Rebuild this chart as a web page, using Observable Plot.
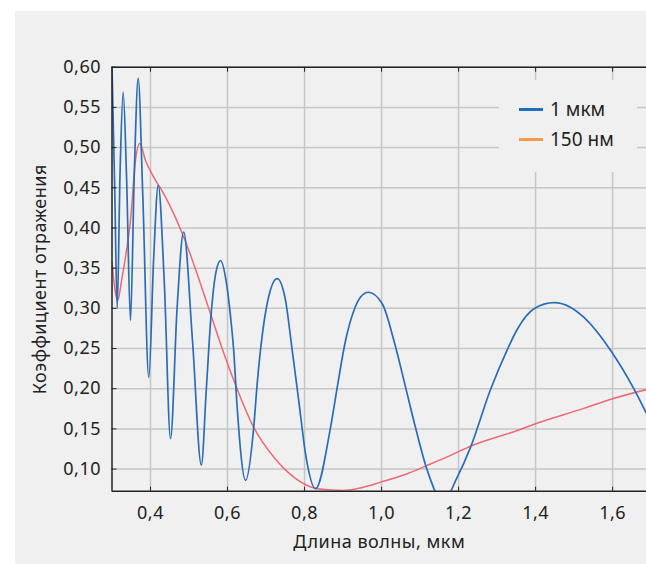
<!DOCTYPE html>
<html><head><meta charset="utf-8">
<script src="https://cdn.jsdelivr.net/npm/d3@7"></script>
<script src="https://cdn.jsdelivr.net/npm/@observablehq/plot@0.6"></script>
<style>
body{margin:0;background:#fff;}
#wrap{position:relative;width:646px;height:564px;overflow:hidden;background:#fff;font-family:"Noto Sans",sans-serif;}
#panel{position:absolute;left:15px;top:11px;right:0;bottom:0;background:#f0f0f0;}
#chart{position:absolute;left:0;top:0;}
#chart svg text{letter-spacing:0.5px;}
#legend{position:absolute;left:499px;top:80px;width:138px;height:92px;background:#f0f0f0;}
.item{position:absolute;left:20px;display:flex;align-items:center;font-size:19px;color:#222;line-height:1;}
.sw{width:24px;height:3px;margin-right:7px;}
</style></head><body>
<div id="wrap"><div id="panel"></div><div id="chart"></div><div id="legend"></div></div>
<script>
const seriesNames = ["1 мкм", "150 нм"];
const legendColors = ["#1f6fba", "#f59a4c"];
const lineColors = ["#2b6db4", "#ec5a66"];

const blueX = [0.300,0.307,0.3135,0.321,0.329,0.338,0.348,0.358,0.368,0.380,0.3956,0.408,0.420,0.436,0.452,0.469,0.486,0.509,0.532,0.545,0.557,0.570,0.582,0.596,0.6078,0.616,0.625,0.647,0.668,0.677,0.690,0.703,0.729,0.7506,0.768,0.785,0.8026,0.8286,0.8675,0.885,0.9065,0.928,0.9455,0.9655,1.0018,1.032,1.0623,1.088,1.1187,1.16,1.1966,1.231,1.283,1.326,1.3525,1.396,1.4476,1.49,1.525,1.595,1.655,1.688];
const blueY = [0.600,0.45,0.300,0.47,0.569,0.46,0.285,0.47,0.586,0.44,0.214,0.36,0.453,0.33,0.138,0.30,0.395,0.26,0.105,0.20,0.29,0.345,0.3595,0.335,0.29,0.2475,0.177,0.086,0.152,0.206,0.266,0.306,0.337,0.310,0.2476,0.185,0.119,0.0756,0.152,0.202,0.260,0.297,0.314,0.320,0.3057,0.260,0.202,0.152,0.0984,0.060,0.090,0.127,0.199,0.248,0.274,0.2995,0.307,0.3015,0.289,0.2476,0.20,0.169];

const redX = [0.300,0.308,0.315,0.325,0.337,0.348,0.361,0.372,0.387,0.4086,0.4345,0.4605,0.4865,0.5558,0.5818,0.6164,0.668,0.720,0.772,0.833,0.902,0.954,0.9974,1.0667,1.1187,1.179,1.231,1.3525,1.40,1.525,1.60,1.688];
const redY = [0.3575,0.322,0.310,0.335,0.37,0.409,0.484,0.505,0.484,0.463,0.4425,0.4176,0.3885,0.2933,0.256,0.2103,0.152,0.115,0.090,0.0756,0.0735,0.0776,0.0838,0.0942,0.1046,0.117,0.1285,0.148,0.1565,0.1755,0.1875,0.199];

const xTicks = [0.4,0.6,0.8,1.0,1.2,1.4,1.6];
const xTickLabels = ["0,4","0,6","0,8","1,0","1,2","1,4","1,6"];
const yTicks = [0.10,0.15,0.20,0.25,0.30,0.35,0.40,0.45,0.50,0.55,0.60];
const yTickLabels = ["0,10","0,15","0,20","0,25","0,30","0,35","0,40","0,45","0,50","0,55","0,60"];
const xDomain = [0.3, 1.688];
const yDomain = [0.0725, 0.6];
const xTitle = "Длина волны, мкм";
const yTitle = "Коэффициент отражения";

const blue = blueX.map((x, i) => ({x, y: blueY[i]}));
const red = redX.map((x, i) => ({x, y: redY[i]}));
const xLab = new Map(xTicks.map((v, i) => [v, xTickLabels[i]]));
const yLab = new Map(yTicks.map((v, i) => [v, yTickLabels[i]]));

const chart = Plot.plot({
  width: 646, height: 564,
  marginLeft: 111.5, marginRight: 0, marginTop: 66.7, marginBottom: 73.3,
  style: {background: "transparent", fontFamily: "Noto Sans", fontSize: "18px", color: "#222"},
  x: {domain: xDomain},
  y: {domain: yDomain},
  marks: [
    Plot.gridX(xTicks, {stroke: "#c6c6c6", strokeOpacity: 1, strokeWidth: 1.5}),
    Plot.gridY(yTicks, {stroke: "#c6c6c6", strokeOpacity: 1, strokeWidth: 1.5}),
    Plot.line(red, {x: "x", y: "y", stroke: lineColors[1], strokeWidth: 1.5, strokeOpacity: 0.9, curve: "monotone-x", clip: true}),
    Plot.line(blue, {x: "x", y: "y", stroke: lineColors[0], strokeWidth: 1.7, curve: "monotone-x", clip: true}),
    Plot.ruleX([xDomain[0]], {stroke: "#222", strokeWidth: 1.5}),
    Plot.ruleY([yDomain[0]], {stroke: "#222", strokeWidth: 1.5}),
    Plot.ruleY([yDomain[1]], {stroke: "#222", strokeWidth: 1.5}),
    Plot.axisX(xTicks, {anchor: "bottom", tickSize: -4, tickPadding: 19, tickFormat: d => xLab.get(d), label: xTitle, labelAnchor: "center", labelOffset: 57, labelArrow: "none", fontSize: 18}),
    Plot.axisX(xTicks, {anchor: "top", tickSize: -4, tickFormat: () => "", label: null}),
    Plot.axisY(yTicks, {anchor: "left", tickSize: -5, tickPadding: 16, tickFormat: d => yLab.get(d), label: yTitle, labelAnchor: "center", labelOffset: 79, labelArrow: "none", fontSize: 18})
  ]
});
document.getElementById("chart").appendChild(chart);

const legend = document.getElementById("legend");
seriesNames.forEach((name, i) => {
  const item = document.createElement("div");
  item.className = "item";
  item.style.top = (20 + i * 30) + "px";
  const sw = document.createElement("span");
  sw.className = "sw";
  sw.style.background = legendColors[i];
  const t = document.createElement("span");
  t.textContent = name;
  item.appendChild(sw); item.appendChild(t);
  legend.appendChild(item);
});
</script>
</body></html>
